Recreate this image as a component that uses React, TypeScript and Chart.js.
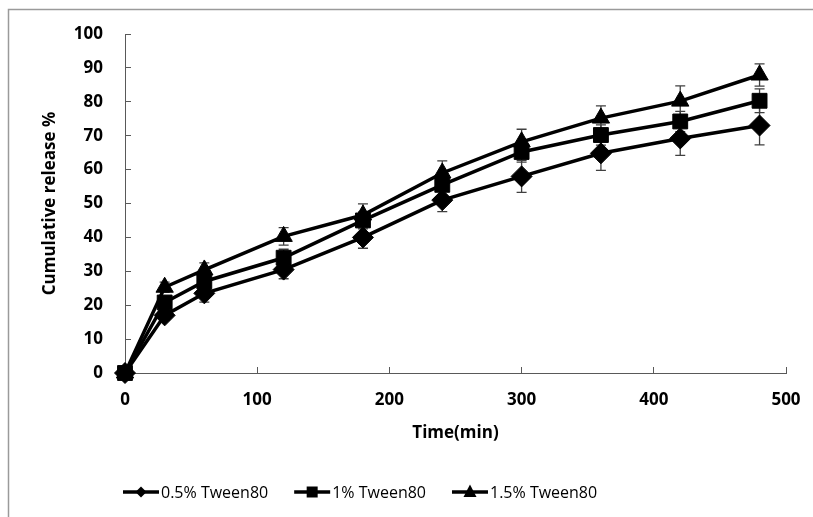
import React, { useEffect, useRef } from 'react';
import { Chart, registerables } from 'chart.js';

Chart.register(...registerables);

// ---- data ----
const timePoints = [0, 30, 60, 120, 180, 240, 300, 360, 420, 480];
const release05 = [0, 17, 23.5, 30.5, 40, 51, 58, 64.8, 69.2, 73];
const release1 = [0, 20.8, 27, 34, 45, 55.5, 65.2, 70.2, 74.2, 80.3];
const release15 = [0, 25.3, 30.4, 40.3, 46.6, 59, 68.2, 75.2, 80.2, 87.9];
const err05 = [0, 1.5, 2.6, 2.7, 3.2, 3.4, 4.7, 5.0, 5.0, 5.7];
const err1 = [0, 1.5, 2, 2.5, 2.5, 3, 3, 3, 3, 3.5];
const err15 = [0, 1.5, 2.1, 2.6, 3.3, 3.6, 3.7, 3.6, 4.5, 3.3];
const seriesLabels = ['0.5% Tween80', '1% Tween80', '1.5% Tween80'];
const seriesStyles = ['rectRot', 'rect', 'triangle'];
const xAxisTitle = 'Time(min)';
const yAxisTitle = 'Cumulative release %';

const FONT = '"Open Sans", "DejaVu Sans", sans-serif';
const AXIS_COLOR = '#595959';

function drawMarker(ctx: CanvasRenderingContext2D, style: string, x: number, y: number, r: number) {
  ctx.beginPath();
  if (style === 'rectRot') {
    ctx.moveTo(x - r, y);
    ctx.lineTo(x, y - r);
    ctx.lineTo(x + r, y);
    ctx.lineTo(x, y + r);
  } else if (style === 'rect') {
    ctx.rect(x - r, y - r, 2 * r, 2 * r);
  } else {
    ctx.moveTo(x, y - r * 1.15);
    ctx.lineTo(x + r, y + r * 0.75);
    ctx.lineTo(x - r, y + r * 0.75);
  }
  ctx.closePath();
  ctx.fill();
}

const framePlugin = {
  id: 'frame',
  beforeDraw(chart: any) {
    const ctx = chart.ctx;
    ctx.save();
    ctx.strokeStyle = '#9a9a9a';
    ctx.lineWidth = 1.5;
    ctx.beginPath();
    ctx.moveTo(8.5, chart.height);
    ctx.lineTo(8.5, 9.5);
    ctx.lineTo(chart.width, 9.5);
    ctx.stroke();
    ctx.restore();
  },
};

const errorBarPlugin = {
  id: 'errorBars',
  beforeDatasetsDraw(chart: any) {
    const ctx = chart.ctx;
    const xs = chart.scales.x;
    const ys = chart.scales.y;
    const errs = [err05, err1, err15];
    const vals = [release05, release1, release15];
    ctx.save();
    ctx.strokeStyle = '#404040';
    ctx.lineWidth = 1.3;
    errs.forEach((e, i) => {
      e.forEach((err, j) => {
        if (!err) return;
        const x = xs.getPixelForValue(timePoints[j]);
        const yT = ys.getPixelForValue(vals[i][j] + err);
        const yB = ys.getPixelForValue(vals[i][j] - err);
        ctx.beginPath();
        ctx.moveTo(x, yT);
        ctx.lineTo(x, yB);
        ctx.moveTo(x - 5, yT);
        ctx.lineTo(x + 5, yT);
        ctx.moveTo(x - 5, yB);
        ctx.lineTo(x + 5, yB);
        ctx.stroke();
      });
    });
    ctx.restore();
  },
};

const legendPlugin = {
  id: 'customLegend',
  afterDraw(chart: any) {
    const ctx = chart.ctx;
    const y = 492;
    let x = 123;
    ctx.save();
    ctx.font = '16px ' + FONT;
    ctx.textBaseline = 'middle';
    ctx.textAlign = 'left';
    chart.data.datasets.forEach((ds: any, i: number) => {
      ctx.strokeStyle = '#000';
      ctx.fillStyle = '#000';
      ctx.lineWidth = 3.5;
      ctx.beginPath();
      ctx.moveTo(x, y);
      ctx.lineTo(x + 36, y);
      ctx.stroke();
      const r = seriesStyles[i] === 'rect' ? 5.5 : seriesStyles[i] === 'rectRot' ? 5.5 : 6.5;
      drawMarker(ctx, seriesStyles[i], x + 18, y, r);
      ctx.fillText(ds.label, x + 38, y + 1);
      x += 38 + ctx.measureText(ds.label).width + 26;
    });
    ctx.restore();
  },
};

export default function App() {
  const canvasRef = useRef<HTMLCanvasElement>(null);

  useEffect(() => {
    if (!canvasRef.current) return;
    const mk = (vals: number[]) => vals.map((v, i) => ({ x: timePoints[i], y: v }));
    const datasets = [release05, release1, release15].map((vals, i) => ({
      label: seriesLabels[i],
      data: mk(vals),
      borderColor: '#000',
      backgroundColor: '#000',
      borderWidth: 3.5,
      pointStyle: seriesStyles[i],
      pointRadius: seriesStyles[i] === 'triangle' ? 10 : 10.5,
      pointBackgroundColor: '#000',
      pointBorderColor: '#000',
      pointBorderWidth: 1,
      tension: 0,
      clip: false as any,
    }));

    const chart = new Chart(canvasRef.current, {
      type: 'line',
      data: { datasets },
      options: {
        animation: false,
        responsive: false,
        devicePixelRatio: 1,
        layout: { padding: { left: 0, top: 34, right: 27, bottom: 74 } },
        plugins: {
          legend: { display: false },
          tooltip: { enabled: false },
        },
        scales: {
          x: {
            type: 'linear',
            min: 0,
            max: 500,
            ticks: {
              stepSize: 100,
              color: '#000',
              font: { family: FONT, size: 17, weight: 'bold' },
              padding: 23,
              maxRotation: 0,
            },
            grid: {
              display: true,
              drawOnChartArea: false,
              drawTicks: true,
              tickLength: -6,
              color: AXIS_COLOR,
              lineWidth: 1,
            },
            border: { display: true, color: AXIS_COLOR, width: 1 },
            title: {
              display: true,
              text: xAxisTitle,
              color: '#000',
              font: { family: FONT, size: 17, weight: 'bold' },
              padding: { top: 0, bottom: 0 },
            },
            afterFit: (s: any) => {
              s.height = 70;
              s.paddingLeft = 0;
              s.paddingRight = 0;
            },
          },
          y: {
            type: 'linear',
            min: 0,
            max: 100,
            ticks: {
              stepSize: 10,
              color: '#000',
              font: { family: FONT, size: 17, weight: 'bold' },
              padding: 28,
            },
            grid: {
              display: true,
              drawOnChartArea: false,
              drawTicks: true,
              tickLength: -6,
              color: AXIS_COLOR,
              lineWidth: 1,
            },
            border: { display: true, color: AXIS_COLOR, width: 1 },
            title: {
              display: true,
              text: yAxisTitle,
              color: '#000',
              font: { family: FONT, size: 17, weight: 'bold' },
              padding: { top: 40, bottom: 0 },
            },
            afterFit: (s: any) => {
              s.width = 125;
              s.paddingTop = 0;
              s.paddingBottom = 0;
            },
          },
        },
      } as any,
      plugins: [framePlugin, errorBarPlugin, legendPlugin],
    });
    return () => chart.destroy();
  }, []);

  return (
    <div style={{ position: 'fixed', left: 0, top: 0, width: 813, height: 517, background: '#fff' }}>
      <canvas ref={canvasRef} width={813} height={517} style={{ display: 'block' }} />
    </div>
  );
}
